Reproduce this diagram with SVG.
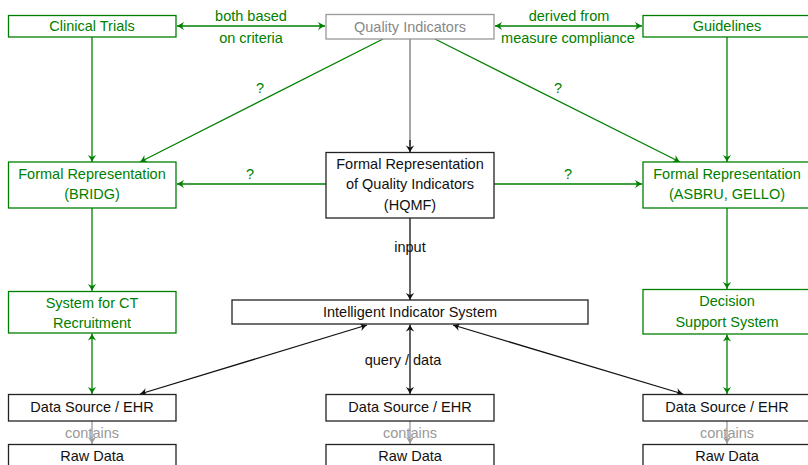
<svg xmlns="http://www.w3.org/2000/svg" width="808" height="465" viewBox="0 0 808 465">
<style>
text{font-family:"Liberation Sans",Arial,sans-serif;font-size:14.5px;text-anchor:middle}
.g rect{fill:#fff;stroke:#008000;stroke-width:1.3}
.g text,.gt{fill:#008000}
.k rect{fill:#fff;stroke:#222;stroke-width:1.3}
.k text,.kt{fill:#111}
.q rect{fill:#fff;stroke:#999;stroke-width:1.3}
.q text{fill:#888}
.gl{stroke:#008000;stroke-width:1.3;fill:none}
.kl{stroke:#111;stroke-width:1.3;fill:none}
.yl{stroke:#999;stroke-width:1.3;fill:none}
.ml{stroke:#777;stroke-width:1.3;fill:none}
.yt{fill:#999}
</style>
<defs>
<marker id="ag" viewBox="-8 -5 9 10" refX="0" refY="0" markerWidth="9" markerHeight="10" markerUnits="userSpaceOnUse" orient="auto-start-reverse"><path d="M0,0 C-2,-1 -5,-2.5 -7,-4.2 L-5,0 L-7,4.2 C-5,2.5 -2,1 0,0 Z" fill="#008000"/></marker>
<marker id="ak" viewBox="-8 -5 9 10" refX="0" refY="0" markerWidth="9" markerHeight="10" markerUnits="userSpaceOnUse" orient="auto-start-reverse"><path d="M0,0 C-2,-1 -5,-2.5 -7,-4.2 L-5,0 L-7,4.2 C-5,2.5 -2,1 0,0 Z" fill="#111"/></marker>
<marker id="ay" viewBox="-8 -5 9 10" refX="0" refY="0" markerWidth="9" markerHeight="10" markerUnits="userSpaceOnUse" orient="auto-start-reverse"><path d="M0,0 C-2,-1 -5,-2.5 -7,-4.2 L-5,0 L-7,4.2 C-5,2.5 -2,1 0,0 Z" fill="#999"/></marker>
</defs>

<g id="connectors">
<!-- top row -->
<line class="gl" x1="177" y1="26" x2="325" y2="26" marker-start="url(#ag)" marker-end="url(#ag)"/>
<text class="gt" x="251" y="21">both based</text>
<text class="gt" x="251" y="43">on criteria</text>
<line class="gl" x1="495" y1="26" x2="642" y2="26" marker-start="url(#ag)" marker-end="url(#ag)"/>
<text class="gt" x="569" y="21">derived from</text>
<text class="gt" x="568" y="43">measure compliance</text>
<!-- verticals to formal representations -->
<line class="gl" x1="92" y1="37" x2="92" y2="162" marker-end="url(#ag)"/>
<line class="gl" x1="727" y1="37" x2="727" y2="162" marker-end="url(#ag)"/>
<line class="ml" x1="410" y1="39" x2="410" y2="146"/>
<line class="kl" x1="410" y1="140" x2="410" y2="152.5" marker-end="url(#ak)"/>
<!-- diagonals from Quality Indicators -->
<line class="gl" x1="383" y1="39" x2="140" y2="162" marker-end="url(#ag)"/>
<text class="gt" x="260" y="93">?</text>
<line class="gl" x1="435" y1="39" x2="680" y2="162" marker-end="url(#ag)"/>
<text class="gt" x="558" y="93">?</text>
<!-- HQMF to sides -->
<line class="gl" x1="326" y1="184" x2="177" y2="184" marker-end="url(#ag)"/>
<text class="gt" x="250" y="179">?</text>
<line class="gl" x1="494" y1="184" x2="642" y2="184" marker-end="url(#ag)"/>
<text class="gt" x="568" y="179">?</text>
<!-- second level -->
<line class="gl" x1="92" y1="208" x2="92" y2="291" marker-end="url(#ag)"/>
<line class="gl" x1="727" y1="208" x2="727" y2="289" marker-end="url(#ag)"/>
<line class="kl" x1="410" y1="218" x2="410" y2="300" marker-end="url(#ak)"/>
<text class="kt" x="410" y="252">input</text>
<!-- to data sources -->
<line class="gl" x1="92" y1="333.5" x2="92" y2="394" marker-start="url(#ag)" marker-end="url(#ag)"/>
<line class="gl" x1="727" y1="334.5" x2="727" y2="394" marker-start="url(#ag)" marker-end="url(#ag)"/>
<line class="kl" x1="410" y1="324.5" x2="410" y2="394" marker-start="url(#ak)" marker-end="url(#ak)"/>
<text class="kt" x="403" y="365">query / data</text>
<line class="kl" x1="367" y1="325" x2="140" y2="394" marker-start="url(#ak)" marker-end="url(#ak)"/>
<line class="kl" x1="453" y1="325" x2="683" y2="394" marker-start="url(#ak)" marker-end="url(#ak)"/>
<!-- contains -->
<line class="yl" x1="92" y1="421" x2="92" y2="444" marker-end="url(#ay)"/>
<text class="yt" x="92" y="438">contains</text>
<line class="yl" x1="410" y1="421" x2="410" y2="444" marker-end="url(#ay)"/>
<text class="yt" x="410" y="438">contains</text>
<line class="yl" x1="727" y1="421" x2="727" y2="444" marker-end="url(#ay)"/>
<text class="yt" x="727" y="438">contains</text>
</g>

<g id="clinical-trials" class="g"><rect x="8.5" y="15.5" width="167.5" height="21.5"/><text x="92" y="31">Clinical Trials</text></g>
<g id="quality-indicators" class="q"><rect x="326" y="14.5" width="168" height="24.5"/><text x="410" y="31.5">Quality Indicators</text></g>
<g id="guidelines" class="g"><rect x="643" y="15.5" width="168" height="21.5"/><text x="727" y="31">Guidelines</text></g>

<g id="formal-bridg" class="g"><rect x="8.5" y="162" width="167.5" height="46"/><text x="92" y="179">Formal Representation</text><text x="92" y="199">(BRIDG)</text></g>
<g id="formal-hqmf" class="k"><rect x="326" y="152.5" width="168" height="65.5"/><text x="410" y="169">Formal Representation</text><text x="410" y="189">of Quality Indicators</text><text x="410" y="210">(HQMF)</text></g>
<g id="formal-asbru" class="g"><rect x="643" y="162" width="168" height="46"/><text x="727" y="179">Formal Representation</text><text x="727" y="199">(ASBRU, GELLO)</text></g>

<g id="ct-recruitment" class="g"><rect x="8.5" y="291.5" width="167.5" height="41.5"/><text x="92" y="308">System for CT</text><text x="92" y="328">Recruitment</text></g>
<g id="intelligent-indicator" class="k"><rect x="232" y="300" width="356" height="24"/><text x="410" y="317">Intelligent Indicator System</text></g>
<g id="decision-support" class="g"><rect x="643" y="289.5" width="168" height="44.5"/><text x="727" y="306">Decision</text><text x="727" y="327">Support System</text></g>

<g id="ds-left" class="k"><rect x="8.5" y="394.5" width="167.5" height="26.5"/><text x="92" y="412">Data Source / EHR</text></g>
<g id="ds-mid" class="k"><rect x="326" y="394.5" width="168" height="26.5"/><text x="410" y="412">Data Source / EHR</text></g>
<g id="ds-right" class="k"><rect x="643" y="394.5" width="168" height="26.5"/><text x="727" y="412">Data Source / EHR</text></g>

<g id="raw-left" class="k"><rect x="8.5" y="444.5" width="167.5" height="30"/><text x="92" y="461">Raw Data</text></g>
<g id="raw-mid" class="k"><rect x="326" y="444.5" width="168" height="30"/><text x="410" y="461">Raw Data</text></g>
<g id="raw-right" class="k"><rect x="643" y="444.5" width="168" height="30"/><text x="727" y="461">Raw Data</text></g>
</svg>
